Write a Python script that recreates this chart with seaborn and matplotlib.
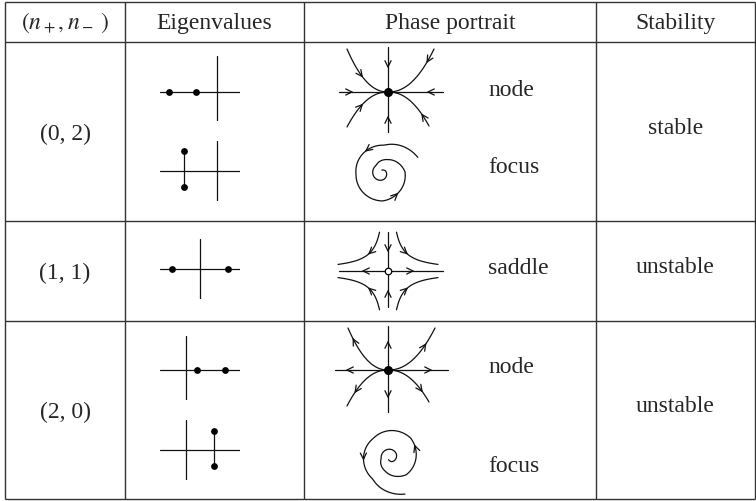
import numpy as np
import matplotlib
matplotlib.use("Agg")
import matplotlib.pyplot as plt
import seaborn as sns
import pandas as pd

sns.set_style("white")
plt.rcParams['font.family'] = ['Liberation Serif', 'DejaVu Serif']
plt.rcParams['mathtext.fontset'] = 'stix'

W, H = 756, 502
INK = '#111111'
LW = 0.9
FS = 17

# table text
headers = [r"$(n_+, n_-\;)$", "Eigenvalues", "Phase portrait", "Stability"]
pair_labels = ["(0, 2)", "(1, 1)", "(2, 0)"]
stability = ["stable", "unstable", "unstable"]
portrait_names = ["node", "focus", "saddle", "node", "focus"]

# eigenvalues of each case (real / imaginary part)
eig_re = [[-4.8, -2.1], [-3.3, -3.3], [-2.8, 2.8], [1.1, 3.9], [2.8, 2.8]]
eig_im = [[0, 0], [2.0, -1.6], [0, 0], [0, 0], [1.9, -1.6]]

# layout (pixels)
col_edges = [5, 125, 304, 596, 755]
row_edges = [3, 43, 222, 322, 500]
pair_y = [134, 273, 412]
stab_y = [128, 268, 407]
name_x = 488
name_y = [90, 168, 269, 368, 467]
eig_ox = [217, 217, 200, 186, 186]
eig_oy = [93, 172, 270, 371, 451]
eig_ylim = [(-2.9, 3.6), (-3.0, 3.0), (-3.0, 3.0), (-3.0, 3.4), (-3.0, 3.0)]
portrait_c = [(388, 93), (381, 174), (388, 272), (388, 371), (390, 458)]

fig = plt.figure(figsize=(7.56, 5.02), dpi=100)
ax = fig.add_axes([0, 0, 1, 1])
ax.set_xlim(0, W)
ax.set_ylim(H, 0)
ax.axis('off')

# grid of the table
ax.vlines(col_edges, row_edges[0], row_edges[-1], color='#333333', lw=1.0)
ax.hlines(row_edges, col_edges[0], col_edges[-1], color='#333333', lw=1.0)

col_mid = [(a + b) / 2 for a, b in zip(col_edges[:-1], col_edges[1:])]
head_y = (row_edges[0] + row_edges[1]) / 2
for x, t in zip(col_mid, headers):
    ax.text(x, head_y, t, ha='center', va='center', fontsize=FS)
for y, t in zip(pair_y, pair_labels):
    ax.text(col_mid[0], y, t, ha='center', va='center', fontsize=FS)
for y, t in zip(stab_y, stability):
    ax.text(col_mid[3], y, t, ha='center', va='center', fontsize=FS)
for y, t in zip(name_y, portrait_names):
    ax.text(name_x, y, t, ha='left', va='center', fontsize=FS)


def inset(cx, cy, left, right, down, up):
    a = fig.add_axes([(cx - left) / W, 1 - (cy + down) / H,
                      (left + right) / W, (up + down) / H])
    a.set_xlim(-left, right)
    a.set_ylim(-down, up)
    a.axis('off')
    return a


def arrowhead(a, x, y, dx, dy, size=7, half=26):
    n = np.hypot(dx, dy)
    ux, uy = dx / n, dy / n
    for s in (1, -1):
        t = np.deg2rad(s * half)
        bx = -(ux * np.cos(t) - uy * np.sin(t))
        by = -(ux * np.sin(t) + uy * np.cos(t))
        a.plot([x, x + size * bx], [y, y + size * by], color=INK, lw=LW, clip_on=False)


# eigenvalue pictures
for i in range(5):
    x0 = (160 - eig_ox[i]) / 10
    x1 = (240 - eig_ox[i]) / 10
    lo, hi = eig_ylim[i]
    a = inset(eig_ox[i], eig_oy[i], -x0 * 10, x1 * 10, -lo * 10, hi * 10)
    a.set_xlim(x0, x1)
    a.set_ylim(lo, hi)
    a.axhline(0, color=INK, lw=LW)
    a.axvline(0, color=INK, lw=LW)
    if eig_im[i][0] != 0:
        a.plot(eig_re[i], eig_im[i], color=INK, lw=LW)
    df = pd.DataFrame({'re': eig_re[i], 'im': eig_im[i]})
    sns.scatterplot(data=df, x='re', y='im', ax=a, color='black', s=24,
                    edgecolor='black', linewidth=0, clip_on=False, zorder=3)
    a.set_xlabel('')
    a.set_ylabel('')
    a.axis('off')


def draw_node(a, outward, hx, vy, ends, ts, ahx, ahy):
    a.plot(hx, [0, 0], color=INK, lw=LW)
    a.plot([0, 0], vy, color=INK, lw=LW)
    p = 2.2
    for (ex, ey), t0 in zip(ends, ts):
        t = np.linspace(0, 1, 80)
        a.plot(ex * t, ey * t ** p, color=INK, lw=LW)
        dx, dy = ex, ey * p * t0 ** (p - 1)
        s = 1 if outward else -1
        arrowhead(a, ex * t0, ey * t0 ** p, s * dx, s * dy)
    for x in ahx:
        arrowhead(a, x, 0, np.sign(x) * (1 if outward else -1), 0)
    for y in ahy:
        arrowhead(a, 0, y, 0, np.sign(y) * (1 if outward else -1))
    a.scatter([0], [0], s=30, color='black', zorder=4)


def draw_saddle(a):
    a.plot([-49, 55], [0, 0], color=INK, lw=LW)
    a.plot([0, 0], [-36, 39], color=INK, lw=LW)
    c = 330
    for sx in (-1, 1):
        for sy in (-1, 1):
            u = np.linspace(8.5, 50, 80)
            a.plot(sx * u, sy * c / u, color=INK, lw=LW)
            u0 = 19
            arrowhead(a, sx * u0, sy * c / u0, sx, -sy * c / u0 ** 2)
    arrowhead(a, -25, 0, -1, 0)
    arrowhead(a, 25, 0, 1, 0)
    arrowhead(a, 0, 20, 0, -1)
    arrowhead(a, 0, -20, 0, 1)
    a.scatter([0], [0], s=22, facecolor='white', edgecolor='black', linewidth=0.9, zorder=4)


def draw_focus(a, stable, theta0, knots_a, knots_r, arrow_deg):
    th = np.deg2rad(np.linspace(knots_a[0], knots_a[-1], 900)) + np.deg2rad(theta0)
    r = np.interp(np.rad2deg(th - np.deg2rad(theta0)), knots_a, knots_r)
    x, y = r * np.cos(th), r * np.sin(th)
    sgn = 1 if stable else -1
    a.plot(x, sgn * y, color=INK, lw=LW)
    for d in arrow_deg:
        k = np.argmin(np.abs(np.rad2deg(th) - d))
        dx, dy = x[k + 1] - x[k - 1], y[k + 1] - y[k - 1]
        if not stable:
            dx, dy = -dx, -dy
        arrowhead(a, x[k], sgn * y[k], dx, sgn * dy)


knot_a = [0, 60, 160, 250, 340, 400, 460, 540, 630, 720, 770]
knot_r = [40, 28, 25, 28, 24, 15, 9, 8, 7, 5, 3]

for i, name in enumerate(portrait_names):
    cx, cy = portrait_c[i]
    a = inset(cx, cy, 65, 65, 50, 50)
    if i == 0:
        draw_node(a, False, [-49, 55], [-40, 45],
                  [(-41, 43), (46, 43), (-41, -35), (41, -34)],
                  [0.63, 0.85, 0.63, 0.83], [-36, 40], [25, -25])
    elif i == 3:
        draw_node(a, True, [-53, 60], [-42, 44],
                  [(-40, 42), (47, 42), (-41, -36), (41, -32)],
                  [0.87, 0.8, 0.8, 0.83], [-41, 43], [28, -27])
    elif i == 2:
        draw_saddle(a)
    elif i == 1:
        draw_focus(a, True, 23, knot_a, knot_r, [124, 308])
    else:
        draw_focus(a, False, 68, knot_a, knot_r, [175, 335])

fig.savefig('out.png', dpi=100)
